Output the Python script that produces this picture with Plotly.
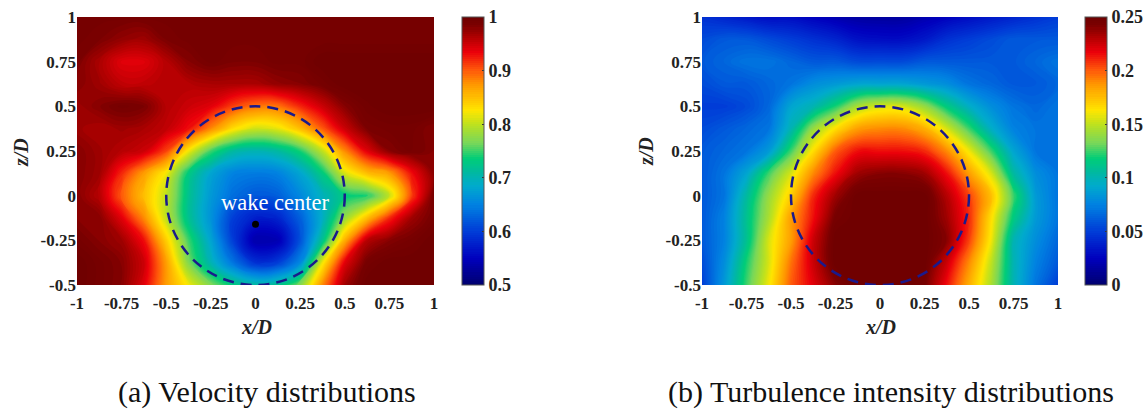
import plotly.graph_objects as go

W, H = 1145, 410
x_grid = [-1, -.875, -.75, -.625, -.5, -.375, -.25, -.125, 0, .125, .25, .375, .5, .625, .75, .875, 1]
z_grid = [1, .875, .75, .625, .5, .375, .25, .125, 0, -.125, -.25, -.375, -.5]

velocity = [
 [.99,.99,.99,.99,.99,.99,.99,.99,.99,.99,.99,.99,.99,.99,.99,.99,.99],
 [.99,.985,.975,.97,.985,.99,.99,.99,.99,.99,.99,.99,.99,.99,.99,.99,.99],
 [.985,.965,.94,.94,.96,.98,.99,.985,.985,.99,.99,1,1,1,1,1,1],
 [.98,.97,.955,.955,.96,.96,.965,.965,.965,.975,.98,.99,1,1,1,1,1],
 [.97,.98,.99,.985,.96,.95,.94,.91,.89,.89,.92,.95,.98,.995,1,1,1],
 [.97,.965,.97,.965,.955,.93,.88,.83,.805,.815,.85,.90,.95,.985,.99,.99,.98],
 [.98,.97,.96,.95,.91,.82,.75,.71,.70,.71,.74,.80,.88,.94,.98,.99,.98],
 [.98,.97,.92,.87,.82,.73,.68,.65,.645,.65,.68,.73,.81,.85,.87,.93,.98],
 [.98,.96,.90,.85,.80,.72,.67,.635,.62,.625,.655,.695,.73,.74,.80,.91,.99],
 [.98,.98,.94,.88,.80,.72,.665,.60,.575,.58,.625,.69,.78,.85,.92,.97,.99],
 [.99,.98,.97,.93,.84,.75,.68,.60,.535,.54,.615,.72,.86,.96,.98,.99,1],
 [1,.99,.98,.95,.87,.77,.70,.64,.59,.60,.655,.82,.94,.99,1,1,1],
 [1,.99,.98,.94,.87,.82,.77,.73,.71,.72,.77,.88,.97,1,1,1,1],
]

turbulence = [
 [.045,.04,.035,.03,.03,.025,.02,.016,.015,.015,.02,.025,.03,.035,.04,.045,.05],
 [.055,.06,.06,.055,.05,.045,.04,.032,.03,.03,.035,.045,.05,.055,.06,.06,.06],
 [.06,.065,.07,.07,.065,.06,.06,.055,.055,.055,.06,.06,.06,.06,.06,.065,.07],
 [.055,.06,.06,.065,.07,.08,.085,.09,.09,.09,.085,.08,.07,.065,.06,.06,.065],
 [.05,.05,.055,.065,.09,.10,.12,.145,.155,.155,.14,.115,.095,.08,.07,.065,.07],
 [.055,.06,.065,.07,.10,.14,.165,.185,.19,.19,.18,.155,.125,.095,.075,.07,.07],
 [.06,.065,.07,.085,.125,.165,.20,.215,.215,.215,.21,.19,.16,.125,.09,.07,.07],
 [.06,.07,.09,.125,.155,.19,.215,.235,.24,.24,.235,.215,.185,.155,.105,.08,.07],
 [.06,.07,.105,.14,.17,.21,.235,.25,.25,.25,.25,.23,.205,.175,.125,.085,.07],
 [.06,.075,.11,.145,.185,.215,.245,.25,.25,.25,.25,.235,.21,.165,.115,.085,.07],
 [.06,.075,.11,.155,.185,.225,.25,.25,.25,.25,.25,.24,.205,.16,.10,.08,.065],
 [.055,.08,.12,.155,.195,.225,.25,.25,.25,.25,.25,.225,.19,.15,.10,.075,.06],
 [.05,.085,.125,.16,.20,.22,.24,.25,.25,.25,.245,.215,.18,.145,.10,.07,.05],
]

x_ticks = [-1, -.75, -.5, -.25, 0, .25, .5, .75, 1]
x_labels = ["-1", "-0.75", "-0.5", "-0.25", "0", "0.25", "0.5", "0.75", "1"]
z_ticks = [-.5, -.25, 0, .25, .5, .75, 1]
z_labels = ["-0.5", "-0.25", "0", "0.25", "0.5", "0.75", "1"]
vel_ticks = [.5, .6, .7, .8, .9, 1]
vel_labels = ["0.5", "0.6", "0.7", "0.8", "0.9", "1"]
ti_ticks = [0, .05, .1, .15, .2, .25]
ti_labels = ["0", "0.05", "0.1", "0.15", "0.2", "0.25"]
wake_center = (0.0, -0.16)
circle_radius = 0.5

colormap = [
 [0, "rgb(0,0,110)"], [.1, "rgb(0,0,190)"], [.2, "rgb(0,60,215)"], [.3, "rgb(0,130,225)"],
 [.37, "rgb(0,170,205)"], [.42, "rgb(0,185,160)"], [.47, "rgb(0,205,120)"], [.53, "rgb(120,215,90)"],
 [.6, "rgb(190,225,30)"], [.65, "rgb(255,230,0)"], [.75, "rgb(255,150,0)"], [.8, "rgb(255,90,10)"],
 [.87, "rgb(235,0,10)"], [.93, "rgb(170,0,0)"], [.97, "rgb(122,0,0)"], [1, "rgb(110,0,0)"],
]

SERIF = "Liberation Serif"
axis_font = dict(family=SERIF, size=17, color="#222222", weight="bold")
bar_font = dict(family=SERIF, size=18, color="#222222", weight="bold")
LEVELS = 128

def px(v):
    return v / W
def py(v):
    return 1 - v / H

fig = go.Figure()

def colorbar(x_px, vals, labels):
    return dict(
        x=px(x_px), xanchor="left", xref="paper", thickness=22, thicknessmode="pixels",
        y=py(285), yanchor="bottom", yref="paper", len=(285 - 17) / H, lenmode="fraction",
        ypad=0, xpad=0, tickvals=vals, ticktext=labels, tickfont=bar_font,
        ticks="inside", ticklen=2, tickcolor="#333333", outlinecolor="#555555", outlinewidth=1,
    )

def field(z, zmin, zmax, bar, xa, ya):
    return go.Contour(x=x_grid, y=z_grid, z=z, zmin=zmin, zmax=zmax, colorscale=colormap,
                      autocontour=False,
                      contours=dict(coloring="fill", start=zmin, end=zmax, size=(zmax - zmin) / LEVELS, showlines=False),
                      line=dict(width=0, smoothing=1.3),
                      colorbar=bar, xaxis=xa, yaxis=ya, hoverinfo="skip")

fig.add_trace(field(velocity, .5, 1, colorbar(462, vel_ticks, vel_labels), "x", "y"))
fig.add_trace(field(turbulence, 0, .25, colorbar(1085, ti_ticks, ti_labels), "x2", "y2"))
fig.add_trace(go.Scatter(x=[wake_center[0]], y=[wake_center[1]], mode="markers",
                         marker=dict(color="black", size=7), xaxis="x", yaxis="y",
                         showlegend=False, hoverinfo="skip"))

def axis_x(domain, anchor):
    return dict(domain=domain, anchor=anchor, range=[-1, 1], tickvals=x_ticks, ticktext=x_labels,
                tickfont=axis_font, ticks="", ticklabelstandoff=6, showgrid=False, zeroline=False,
                showline=False, automargin=False)
def axis_y(domain, anchor):
    return dict(domain=domain, anchor=anchor, range=[-.5, 1], tickvals=z_ticks, ticktext=z_labels,
                tickfont=axis_font, ticks="", showgrid=False, zeroline=False, showline=False, automargin=False)

dom_y = [py(285), py(17)]
fig.update_layout(
    template="none",
    width=W, height=H, autosize=False, margin=dict(l=0, r=0, t=0, b=0, autoexpand=False),
    paper_bgcolor="white", plot_bgcolor="white", showlegend=False,
    xaxis=axis_x([px(77), px(434)], "y"), yaxis=axis_y(dom_y, "x"),
    xaxis2=axis_x([px(702), px(1058)], "y2"), yaxis2=axis_y(dom_y, "x2"),
)

for xr, yr in (("x", "y"), ("x2", "y2")):
    fig.add_shape(type="circle", xref=xr, yref=yr, x0=-circle_radius, x1=circle_radius,
                  y0=-circle_radius, y1=circle_radius,
                  line=dict(color="#1a1a8c", width=2.5, dash="11px,7px"))

def note(text, x, y, size=16, color="#222222", angle=0):
    fig.add_annotation(text=text, x=px(x), y=py(y), xref="paper", yref="paper", showarrow=False,
                       xanchor="center", yanchor="middle", textangle=angle,
                       font=dict(family=SERIF, size=size, color=color))

note("<b><i>x/D</i></b>", 256, 327, size=20)
note("<b><i>x/D</i></b>", 880, 327, size=20)
note("<b><i>z/D</i></b>", 21, 152, size=20, angle=-90)
note("<b><i>z/D</i></b>", 646, 152, size=20, angle=-90)
note("wake center", 275, 202, size=22.5, color="white")
note("(a) Velocity distributions", 266.5, 392, size=30, color="#111111")
note("(b) Turbulence intensity distributions", 890.5, 392, size=30, color="#111111")

fig.write_html("out.html", config=dict(displayModeBar=False),
               post_script="document.body.style.margin='0';document.body.style.overflow='hidden';")
